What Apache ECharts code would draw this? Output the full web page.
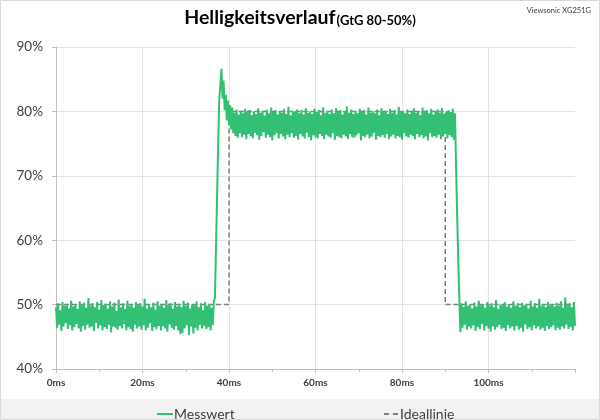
<!DOCTYPE html>
<html>
<head>
<meta charset="utf-8">
<script src="https://cdn.jsdelivr.net/npm/echarts@6/dist/echarts.min.js"></script>
<style>
html,body{margin:0;padding:0;background:#fff;}
#chart{width:600px;height:420px;}
</style>
</head>
<body>
<div id="chart"></div>
<script>
// ---- data ----
const titleMain = 'Helligkeitsverlauf';
const titleSub = '(GtG 80-50%)';
const deviceName = 'Viewsonic XG251G';
const seriesNames = ['Messwert', 'Ideallinie'];
const xTickValues = [0, 20, 40, 60, 80, 100];
const yTickValues = [40, 50, 60, 70, 80, 90];
const sampleStepMs = 0.25;

// Messwert, one sample every 0.25 ms starting at 0 ms (percent)
const baselineBefore = [
49.6,46.4,50.2,46.9,49.1,45.9,50.4,46.6,49.8,47.1,
50.0,46.2,49.4,46.8,50.6,46.0,49.7,46.5,50.1,47.0,
49.3,46.3,50.5,45.8,49.9,46.7,50.3,46.1,49.5,46.9,
51.0,46.4,49.8,46.6,50.2,45.9,49.6,47.2,50.4,46.3,
49.2,46.8,50.7,46.0,49.9,46.5,50.1,46.2,49.4,46.9,
50.5,45.7,49.7,46.6,50.3,46.4,49.0,46.1,50.8,46.7,
49.6,46.3,50.2,47.0,49.3,46.0,50.6,46.5,49.8,46.2,
50.0,45.8,49.5,46.9,50.4,46.3,49.9,46.6,50.2,46.1,
49.7,46.8,50.9,46.0,49.4,46.4,50.1,47.1,49.6,45.9,
50.3,46.5,49.2,46.2,50.5,46.7,49.8,46.0,50.0,46.6,
49.5,46.3,50.7,45.8,49.9,46.9,50.2,46.4,49.3,46.1,
50.4,46.7,49.7,46.0,50.1,45.4,49.6,45.6,50.6,46.3,
49.8,46.8,50.3,45.3,49.4,46.6,50.0,45.5,49.9,46.4,
50.5,46.0,49.6,46.9,50.2,46.3,49.1,46.7,50.4,46.2,
49.8,46.5,50.1,46.0,49.5,46.8,50.6
];
const riseAndOvershoot = [
51.0,59.0,67.0,75.0,82.0,84.0,86.6,82.0,84.8,80.2,
82.6,78.6,81.7,77.9,81.0,77.2,80.6,76.6
];
const plateau = [
79.8,76.2,80.3,75.9,79.5,76.6,80.1,76.0,79.7,76.4,
80.4,75.7,79.9,76.5,80.2,76.1,79.4,75.8,80.0,76.7,
79.6,76.3,80.5,75.6,79.8,76.2,80.1,76.8,79.3,75.9,
80.3,76.4,79.7,76.0,80.6,75.5,79.9,76.3,80.2,76.6,
79.5,75.8,80.0,76.5,79.8,76.1,80.4,75.7,79.6,76.4,
80.7,76.0,79.4,76.6,80.1,75.9,79.9,76.2,80.3,75.6,
79.7,76.5,80.2,76.1,79.5,75.8,80.5,76.7,79.8,76.0,
80.0,75.5,79.6,76.3,80.4,76.0,79.9,75.8,80.2,76.5,
79.4,76.2,80.6,75.7,79.8,76.4,80.1,76.1,79.6,75.9,
80.3,76.6,79.7,75.6,80.5,76.2,79.9,76.0,80.2,75.8,
79.5,76.4,80.0,76.1,80.8,75.7,79.8,76.5,80.3,76.0,
79.6,75.9,80.1,76.3,79.7,76.6,80.4,75.5,79.9,76.2,
80.2,76.0,79.5,76.4,80.6,75.8,79.8,76.1,80.0,76.7,
79.7,75.6,80.3,76.2,79.4,76.0,80.5,76.3,79.9,75.9,
80.1,76.5,79.6,75.7,80.4,76.1,79.8,76.4,80.2,75.8,
79.5,76.2,80.7,76.0,79.9,75.6,80.0,76.6,79.7,76.1,
80.3,75.9,79.6,76.4,80.1,76.2,80.5,75.7,79.8,76.5,
80.0,76.0,79.4,76.3,80.6,75.8,79.9,76.1,80.2,75.5,
79.7,76.6,80.4,76.0,79.5,76.2,80.1,75.9,80.3,76.4,
79.8,75.7,80.5,76.1,79.6,76.5,80.0,75.8,80.2,76.3,
79.9,76.0,80.4,75.6,79.7
];
const fall = [71.5,64.0,57.0,51.0,45.7];
const baselineAfter = [
50.2,46.4,49.6,46.9,50.5,46.1,49.8,46.6,50.0,46.3,
49.4,46.8,50.3,45.9,49.7,46.5,50.6,46.2,49.9,47.0,
50.1,46.0,49.5,46.7,50.4,46.3,49.8,45.8,50.2,46.6,
49.6,46.1,50.7,46.5,49.3,46.9,50.0,46.2,49.9,46.4,
50.4,45.9,49.7,46.8,50.1,46.3,49.5,46.6,50.5,46.0,
49.8,46.7,50.2,46.1,49.6,46.4,50.3,45.8,49.9,46.9,
50.0,46.2,49.4,46.5,50.6,46.0,49.7,46.8,50.2,46.3,
49.5,46.6,50.9,46.1,49.8,46.4,50.1,45.9,49.6,46.7,
50.4,46.2,49.9,46.5,50.0,46.8,49.7,46.0,50.3,46.4,
49.8,46.1,50.5,46.6,49.5,46.3,51.1,46.9,49.9,46.2,
50.2,46.5,49.6,46.0,50.4,46.7
];

// Ideallinie (ms, percent)
const idealTimes = [0, 40, 40, 90, 90, 120];
const idealValues = [50, 50, 80, 80, 50, 50];

// ---- build series data ----
const measuredValues = [].concat(baselineBefore, riseAndOvershoot, plateau, fall, baselineAfter);
const measuredData = measuredValues.map((v, i) => [i * sampleStepMs, v]);
const idealData = idealTimes.map((t, i) => [t, idealValues[i]]);

const GREEN = '#33bf74';
const GREY = '#808080';
const GRID = '#e3e3e3';
const FONT = 'Lato, "Open Sans", sans-serif';
const chart = echarts.init(document.getElementById('chart'), null, {renderer: 'canvas'});
chart.setOption({
  animation: false,
  backgroundColor: '#ffffff',
  title: [{
    text: '{a|' + titleMain + '}{b|' + titleSub + '}',
    left: 'center',
    top: 3,
    textStyle: {
      rich: {
        a: {fontFamily: FONT, fontSize: 19.5, fontWeight: 'bold', color: '#000000'},
        b: {fontFamily: FONT, fontSize: 13, fontWeight: 'bold', color: '#000000', padding: [5, 0, 0, 1]}
      }
    }
  }, {
    text: deviceName,
    right: 4,
    top: 2,
    textStyle: {fontFamily: FONT, fontSize: 7.5, fontWeight: 'normal', color: '#404040'}
  }],
  graphic: [{
    type: 'rect', z: -10, silent: true,
    shape: {x: 1, y: 399, width: 598, height: 20},
    style: {fill: '#f2f2f2'}
  }, {
    type: 'rect', z: 100, silent: true,
    shape: {x: 0.5, y: 0.5, width: 599, height: 419},
    style: {fill: 'none', stroke: '#d9d9d9', lineWidth: 1}
  }],
  legend: [{
    data: [{name: seriesNames[0], icon: 'path://M0,0 L16,0 L16,2 L0,2 Z'}],
    left: 152, top: 402,
    itemWidth: 16, itemHeight: 2, itemGap: 0,
    itemStyle: {color: GREEN},
    textStyle: {fontFamily: FONT, fontSize: 14, color: '#404040', padding: [0, 0, 0, -4]}
  }, {
    data: [{name: seriesNames[1], icon: 'path://M0,0 L5,0 L5,2 L0,2 Z M9,0 L14,0 L14,2 L9,2 Z'}],
    left: 379, top: 402,
    itemWidth: 14, itemHeight: 2, itemGap: 0,
    itemStyle: {color: GREY},
    textStyle: {fontFamily: FONT, fontSize: 14, color: '#404040', padding: [0, 0, 0, -3]}
  }],
  grid: {left: 56, right: 25, top: 47, bottom: 51, containLabel: false},
  xAxis: {
    type: 'value',
    min: 0, max: 120, interval: 20,
    axisLine: {show: true, onZero: false, lineStyle: {color: '#bfbfbf', width: 1}},
    axisTick: {show: true, length: 4, lineStyle: {color: '#bfbfbf'}},
    minorTick: {show: true, splitNumber: 2, length: 3, lineStyle: {color: '#bfbfbf'}},
    splitLine: {show: false},
    axisLabel: {
      customValues: xTickValues,
      formatter: '{value}ms',
      fontFamily: FONT, fontSize: 10, fontWeight: 'bold', color: '#404040', margin: 9
    }
  },
  yAxis: {
    type: 'value',
    min: 40, max: 90, interval: 10,
    axisLine: {show: true, lineStyle: {color: '#bfbfbf', width: 1}},
    axisTick: {show: true, length: 4, lineStyle: {color: '#bfbfbf'}},
    splitLine: {show: true, lineStyle: {color: GRID, width: 1}},
    axisLabel: {
      customValues: yTickValues,
      formatter: '{value}%',
      fontFamily: FONT, fontSize: 13.5, color: '#404040', margin: 13
    }
  },
  series: [{
    name: 'verticalGrid',
    type: 'line',
    data: [],
    silent: true,
    z: 1,
    markLine: {
      z: 1,
      silent: true,
      animation: false,
      symbol: ['none', 'none'],
      label: {show: false},
      emphasis: {disabled: true},
      lineStyle: {type: 'solid', color: GRID, width: 1},
      data: xTickValues.slice(1).map(v => ({xAxis: v}))
    }
  }, {
    name: seriesNames[1],
    type: 'line',
    data: idealData,
    symbol: 'none',
    showSymbol: false,
    lineStyle: {color: GREY, width: 1.5, type: [5, 3]},
    itemStyle: {color: GREY},
    z: 9
  }, {
    name: seriesNames[0],
    type: 'line',
    data: measuredData,
    symbol: 'none',
    showSymbol: false,
    sampling: null,
    lineStyle: {color: GREEN, width: 2},
    itemStyle: {color: GREEN},
    z: 10
  }]
});
</script>
</body>
</html>
